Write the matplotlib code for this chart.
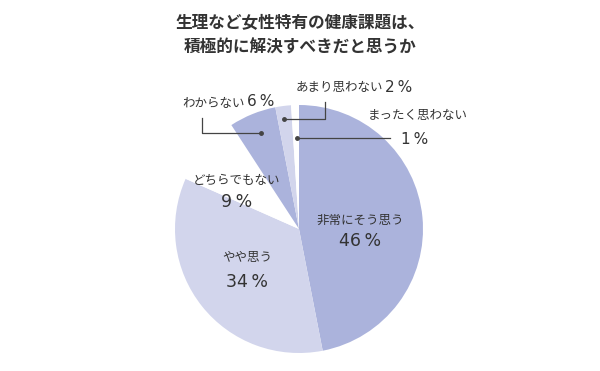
import matplotlib.pyplot as plt

plt.rcParams['font.family'] = ['Noto Sans CJK JP', 'DejaVu Sans']

title_lines = ['生理など女性特有の健康課題は、', '積極的に解決すべきだと思うか']
labels = ['非常にそう思う', 'やや思う', 'どちらでもない', 'わからない', 'あまり思わない', 'まったく思わない']
values = [46, 34, 9, 6, 2, 1]
colors = ['#abb3dc', '#d2d5ec', '#ffffff', '#abb3dc', '#d2d5ec', '#ffffff']

W, H = 600, 371
fig = plt.figure(figsize=(6, 3.71), dpi=100)
ax = fig.add_axes([0, 0, 1, 1])


def py(y):
    # pixel y from top -> data y
    return H - y


ax.pie(values, colors=colors, startangle=90, counterclock=False,
       center=(299, py(229)), radius=124, wedgeprops=dict(linewidth=0))
ax.set_xlim(0, W)
ax.set_ylim(0, H)
ax.set_aspect('equal')
ax.axis('off')

tc = '#333333'
ax.text(300, py(23), title_lines[0], ha='center', va='center', fontsize=12, fontweight='bold', color=tc)
ax.text(300, py(48), title_lines[1], ha='center', va='center', fontsize=12, fontweight='bold', color=tc)

# numbers: wider latin font, small gap before %
pct = [f'{v}\u2009%' for v in values]
nf = dict(family=['DejaVu Sans'], color=tc)

# labels inside / beside the pie
ax.text(360, py(220), labels[0], ha='center', va='center', fontsize=9, color=tc)
ax.text(360, py(241), pct[0], ha='center', va='center', fontsize=12.5, **nf)
ax.text(247, py(258), labels[1], ha='center', va='center', fontsize=9, color=tc)
ax.text(247, py(282), pct[1], ha='center', va='center', fontsize=12.5, **nf)
ax.text(237, py(180), labels[2], ha='center', va='center', fontsize=9, color=tc)
ax.text(237, py(202), pct[2], ha='center', va='center', fontsize=12.5, **nf)

ax.text(245, py(103), labels[3], ha='right', va='center', fontsize=9, color=tc)
ax.text(247, py(102), pct[3], ha='left', va='center', fontsize=11, **nf)
ax.text(383, py(88), labels[4], ha='right', va='center', fontsize=9, color=tc)
ax.text(385, py(87), pct[4], ha='left', va='center', fontsize=11, **nf)
ax.text(418, py(116), labels[5], ha='center', va='center', fontsize=9, color=tc)
ax.text(415, py(139), pct[5], ha='center', va='center', fontsize=11, **nf)

# leader lines
lc = '#444444'
ax.plot([202, 202, 261], [py(118), py(133), py(133)], color=lc, lw=0.9)
ax.plot([261], [py(133)], 'o', color=lc, ms=2.5)
ax.plot([325, 325, 284], [py(102), py(119), py(119)], color=lc, lw=0.9)
ax.plot([284], [py(119)], 'o', color=lc, ms=2.5)
ax.plot([390, 297], [py(138), py(138)], color=lc, lw=0.9)
ax.plot([297], [py(138)], 'o', color=lc, ms=2.5)

fig.savefig('out.png', dpi=100)
